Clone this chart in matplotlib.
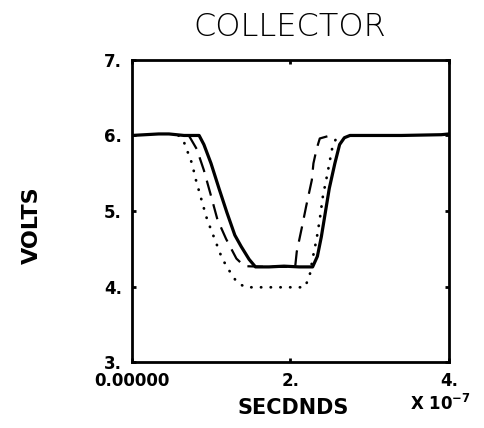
import matplotlib
matplotlib.use("Agg")
import matplotlib.pyplot as plt

# Traces (time in units of 1e-7 s, volts)
solid_t = [0.0, 0.34, 0.47, 0.66, 0.85, 0.91, 1.00, 1.10, 1.20, 1.30, 1.38, 1.48, 1.56,
           1.73, 1.92, 2.11, 2.28, 2.34, 2.39, 2.44, 2.49, 2.56, 2.62, 2.68, 2.75,
           3.40, 3.90, 4.00]
solid_v = [6.00, 6.02, 6.02, 6.00, 6.00, 5.88, 5.63, 5.30, 4.98, 4.68, 4.53, 4.36, 4.26,
           4.26, 4.27, 4.26, 4.26, 4.40, 4.66, 4.98, 5.30, 5.63, 5.88, 5.97, 6.00,
           6.00, 6.01, 6.02]

dashed_t = [0.72, 0.82, 0.91, 1.00, 1.08, 1.19, 1.32, 1.42, 1.70, 2.06, 2.08, 2.15,
            2.20, 2.27, 2.29, 2.33, 2.37, 2.47, 2.56]
dashed_v = [6.00, 5.82, 5.54, 5.20, 4.89, 4.63, 4.37, 4.27, 4.26, 4.26, 4.46, 4.81,
            5.07, 5.41, 5.63, 5.82, 5.96, 5.99, 6.00]

dotted_t = [0.59, 0.66, 0.76, 0.81, 0.89, 0.95, 1.06, 1.14, 1.23, 1.33, 1.44, 1.80,
            2.18, 2.24, 2.28, 2.33, 2.37, 2.41, 2.46, 2.53, 2.58, 2.65]
dotted_v = [6.00, 5.91, 5.63, 5.41, 5.11, 4.89, 4.59, 4.37, 4.21, 4.05, 3.99, 3.99,
            3.99, 4.13, 4.37, 4.63, 4.89, 5.20, 5.46, 5.85, 5.97, 6.00]

x_ticks = [0, 2, 4]
x_labels = ["0.00000", "2.", "4."]
y_ticks = [3, 4, 5, 6, 7]
y_labels = ["3.", "4.", "5.", "6.", "7."]

fig = plt.figure(figsize=(4.84, 4.28), dpi=100)
ax = fig.add_axes([0.272, 0.154, 0.656, 0.706])

ax.plot(solid_t, solid_v, color="black", lw=2.3, solid_joinstyle="round")
ax.plot(dashed_t, dashed_v, color="black", lw=1.6, dashes=(7, 4))
ax.plot(dotted_t, dotted_v, color="black", lw=2.0, dashes=(0.1, 3.4),
        dash_capstyle="round")

ax.set_xlim(0, 4)
ax.set_ylim(3, 7)
ax.set_xticks(x_ticks)
ax.set_xticklabels(x_labels)
ax.set_yticks(y_ticks)
ax.set_yticklabels(y_labels)
ax.tick_params(direction="in", length=3, width=2, top=True, right=True,
               labelsize=12, pad=7)
for lab in ax.get_xticklabels() + ax.get_yticklabels():
    lab.set_fontweight("bold")
for sp in ax.spines.values():
    sp.set_linewidth(2.0)

fig.text(0.598, 0.938, "COLLECTOR", ha="center", va="center", fontsize=23,
         fontweight="light")
fig.text(0.065, 0.474, "VOLTS", ha="center", va="center", rotation=90,
         fontsize=16, fontweight="bold")
fig.text(0.605, 0.047, "SECDNDS", ha="center", va="center", fontsize=15,
         fontweight="bold")
fig.text(0.91, 0.057, r"X 10$^{\mathbf{-7}}$", ha="center", va="center",
         fontsize=12, fontweight="bold")

fig.savefig("out.png", dpi=100)
